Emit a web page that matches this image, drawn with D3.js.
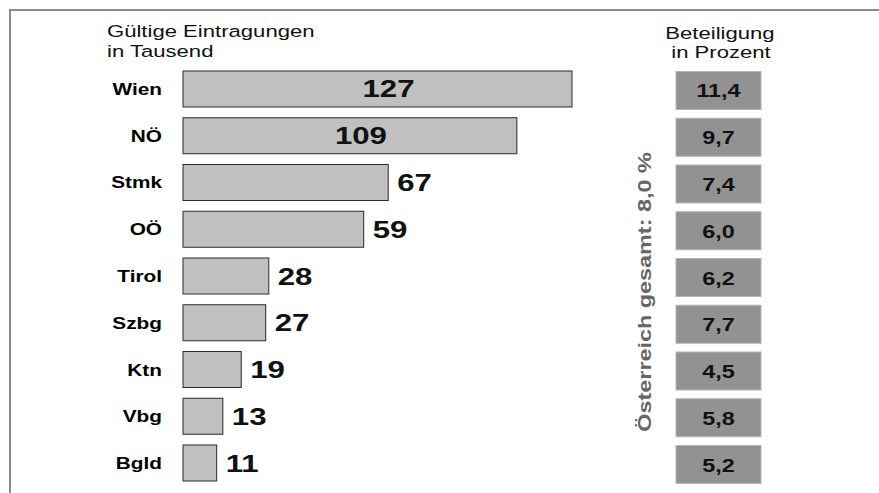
<!DOCTYPE html>
<html>
<head>
<meta charset="utf-8">
<script src="https://cdn.jsdelivr.net/npm/d3@7"></script>
<style>
  body { margin: 0; background: #fff; }
  text { font-family: "Liberation Sans", Arial, sans-serif; }
</style>
</head>
<body>
<div id="chart"></div>
<script>
var width = 879;
var height = 493;

// data
var regions = ['Wien', 'NÖ', 'Stmk', 'OÖ', 'Tirol', 'Szbg', 'Ktn', 'Vbg', 'Bgld'];
var eintragungen = [127, 109, 67, 59, 28, 27, 19, 13, 11];
var beteiligung = ['11,4', '9,7', '7,4', '6,0', '6,2', '7,7', '4,5', '5,8', '5,2'];
var insideLabel = [true, true, false, false, false, false, false, false, false];
var gesamtText = 'Österreich gesamt:  8,0 %';

var rows = regions.map((r, i) => ({
    region: r,
    value: eintragungen[i],
    pct: beteiligung[i],
    inside: insideLabel[i]
}));

var sx = 1.3; // wide type like the original

var svg = d3.select('#chart').append('svg')
    .attr('width', width)
    .attr('height', height);

// frame
svg.append('line')
    .attr('x1', 9).attr('x2', width).attr('y1', 10).attr('y2', 10)
    .attr('stroke', '#8a8a8a').attr('stroke-width', 2);
svg.append('line')
    .attr('x1', 10).attr('x2', 10).attr('y1', 9).attr('y2', height)
    .attr('stroke', '#8a8a8a').attr('stroke-width', 2);

var xScale = d3.scaleLinear()
    .domain([0, 127])
    .range([183, 572]);

var yScale = d3.scaleBand()
    .domain(regions)
    .range([71, 481])
    .paddingInner(0.23)
    .paddingOuter(0);

function addText(g, x, y, str) {
    return g.append('text')
        .attr('transform', `translate(${x}, ${y}) scale(${sx}, 1)`)
        .text(str);
}

// titles
var titles = svg.append('g')
    .style('font-size', '17px')
    .attr('fill', '#111');
addText(titles, 107, 37, 'Gültige Eintragungen');
addText(titles, 107, 56.5, 'in Tausend');
addText(titles, 720, 39, 'Beteiligung').attr('text-anchor', 'middle');
addText(titles, 721, 58, 'in Prozent').attr('text-anchor', 'middle');

// bars
svg.append('g').selectAll('rect')
    .data(rows)
    .enter()
    .append('rect')
    .attr('x', xScale(0))
    .attr('y', d => yScale(d.region))
    .attr('width', d => xScale(d.value) - xScale(0))
    .attr('height', yScale.bandwidth())
    .attr('fill', '#c0c0c0')
    .attr('stroke', '#2a2a2a')
    .attr('stroke-width', 1);

// category labels
var catG = svg.append('g')
    .style('font-size', '16px')
    .style('font-weight', 'bold')
    .attr('fill', '#000');
rows.forEach(function (d) {
    addText(catG, 162, yScale(d.region) + yScale.bandwidth() / 2 + 6, d.region)
        .attr('text-anchor', 'end');
});

// value labels
var valG = svg.append('g')
    .style('font-size', '24px')
    .style('font-weight', 'bold')
    .attr('fill', '#111');
rows.forEach(function (d) {
    var y = yScale(d.region) + yScale.bandwidth() / 2 + 8.5;
    if (d.inside) {
        addText(valG, xScale(d.value / 2) + 11, y, d.value).attr('text-anchor', 'middle');
    } else {
        addText(valG, xScale(d.value) + 9, y, d.value);
    }
});

// percent boxes
var pctG = svg.append('g');
pctG.selectAll('rect')
    .data(rows)
    .enter()
    .append('rect')
    .attr('x', 676)
    .attr('y', d => yScale(d.region) + 0.5)
    .attr('width', 85)
    .attr('height', yScale.bandwidth() + 2)
    .attr('fill', '#929292')
    .attr('stroke', '#b4b4b4')
    .attr('stroke-width', 1);

var pctText = svg.append('g')
    .style('font-size', '18px')
    .style('font-weight', 'bold')
    .attr('fill', '#111');
rows.forEach(function (d) {
    addText(pctText, 718.5, yScale(d.region) + yScale.bandwidth() / 2 + 8.5, d.pct)
        .attr('text-anchor', 'middle');
});

// vertical total label
svg.append('text')
    .attr('transform', `translate(651, 292) rotate(-90) scale(${sx}, 1)`)
    .attr('text-anchor', 'middle')
    .style('font-size', '18px')
    .style('font-weight', 'bold')
    .attr('fill', '#666')
    .text(gesamtText);
</script>
</body>
</html>
